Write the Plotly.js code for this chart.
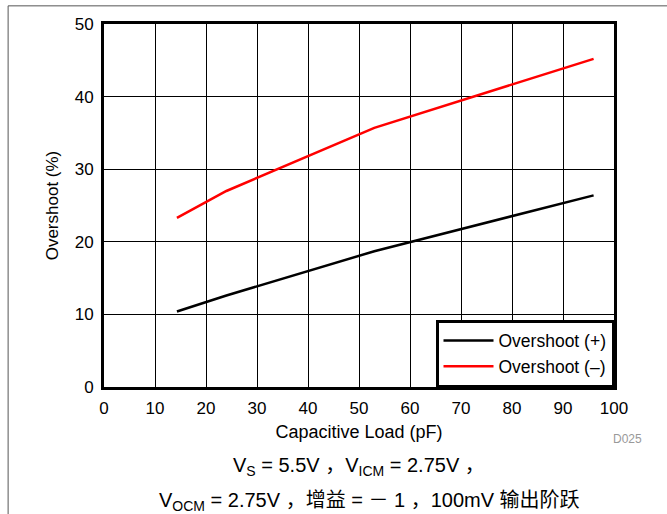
<!DOCTYPE html>
<html><head><meta charset="utf-8">
<script src="https://cdn.plot.ly/plotly-3.0.1.min.js"></script>
<style>body{margin:0;padding:0;background:#fff}#c{width:667px;height:514px}</style>
</head><body><div id="c"></div>
<script>
const capLoad = [14.3, 24, 53, 96];
const overshootPos = [10.4, 12.6, 18.7, 26.4];
const overshootNeg = [23.3, 27.0, 35.7, 45.2];
const xTicks = [0,10,20,30,40,50,60,70,80,90,100];
const yTicks = [0,10,20,30,40,50];
const seriesNames = ['Overshoot (+)', 'Overshoot (\u2013)'];

const font = 'Liberation Sans, Arial, Helvetica, sans-serif';
const traces = [
  {x: capLoad, y: overshootPos, mode: 'lines', name: seriesNames[0], line: {color: '#000', width: 2.5}},
  {x: capLoad, y: overshootNeg, mode: 'lines', name: seriesNames[1], line: {color: '#ff0000', width: 2.5}}
];
const layout = {
  width: 667, height: 514,
  margin: {l: 104, r: 53, t: 24, b: 127},
  paper_bgcolor: '#fff', plot_bgcolor: '#fff',
  font: {family: font, size: 17, color: '#000'},
  showlegend: true,
  legend: {x: 1, y: 0, xanchor: 'right', yanchor: 'bottom', bgcolor: '#fff',
    bordercolor: '#000', borderwidth: 2.5, font: {size: 17.5, family: font}, tracegroupgap: 0,
    itemwidth: 50},
  xaxis: {range: [0, 100], tickvals: xTicks, ticktext: xTicks.map(String), showgrid: true,
    gridcolor: '#000', gridwidth: 1, showline: true, linecolor: '#000', linewidth: 3, mirror: true,
    zeroline: false, ticks: '', tickfont: {size: 17}, ticklabelstandoff: 4,
    title: {text: 'Capacitive Load (pF)', font: {size: 18}, standoff: 8}},
  yaxis: {range: [0, 50], tickvals: yTicks, ticktext: yTicks.map(String), showgrid: true,
    gridcolor: '#000', gridwidth: 1, showline: true, linecolor: '#000', linewidth: 3, mirror: true,
    zeroline: false, ticks: '', tickfont: {size: 17}, ticklabelstandoff: 4,
    title: {text: 'Overshoot (%)', font: {size: 17}, standoff: 12}},
  shapes: [
    {type: 'line', xref: 'paper', yref: 'paper', x0: -0.188, x1: 1.2, y0: 1.05, y1: 1.05, line: {color: '#555', width: 1}},
    {type: 'line', xref: 'paper', yref: 'paper', x0: -0.188, x1: -0.188, y0: 1.05, y1: -0.4, line: {color: '#555', width: 1}}
  ],
  annotations: [
    {text: 'D025', xref: 'paper', yref: 'paper', x: 1.058, y: -0.143, xanchor: 'right', yanchor: 'middle',
      showarrow: false, font: {size: 12, color: '#999'}},
    {text: 'V<sub>S</sub> = 5.5V \uff0cV<sub>ICM</sub> = 2.75V \uff0c', xref: 'paper', yref: 'paper', x: 0.5, y: -0.22,
      xanchor: 'center', yanchor: 'middle', showarrow: false, font: {size: 20, family: font + ', Noto Sans CJK SC'}},
    {text: 'V<sub>OCM</sub> = 2.75V \uff0c\u589e\u76ca = \uff0d 1 \uff0c100mV \u8f93\u51fa\u9636\u8dc3', xref: 'paper', yref: 'paper', x: 0.52, y: -0.315,
      xanchor: 'center', yanchor: 'middle', showarrow: false, font: {size: 20, family: font + ', Noto Sans CJK SC'}}
  ]
};
Plotly.newPlot('c', traces, layout, {displayModeBar: false});
</script></body></html>
